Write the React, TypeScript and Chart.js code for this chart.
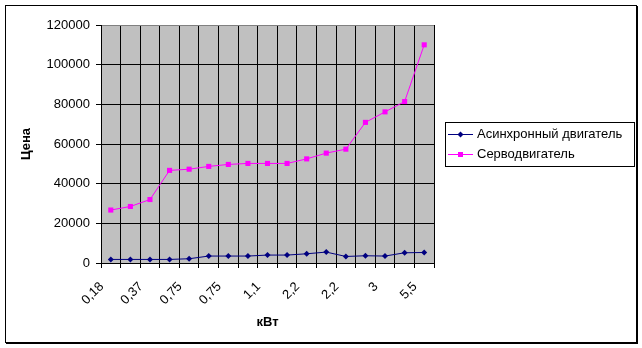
import React, { useEffect, useRef } from 'react';
import { Chart, registerables } from 'chart.js';

Chart.register(...registerables);

const categories = ['0,18', '0,25', '0,37', '0,55', '0,75', '0,75', '0,75', '1,1', '1,1', '1,5', '2,2', '2,2', '2,2', '3', '3', '4', '5,5'];
const asyncPrices = [1800, 1800, 1800, 1800, 2150, 3500, 3500, 3500, 4000, 4000, 4650, 5500, 3300, 3650, 3500, 5150, 5300];
const servoPrices = [26700, 28500, 32000, 46700, 47300, 48700, 49700, 50200, 50200, 50200, 52500, 55400, 57400, 70900, 76200, 81400, 110000];
const seriesNames = ['Асинхронный двигатель', 'Серводвигатель'];
const seriesColors = ['#000080', '#FF00FF'];
const yMin = 0;
const yMax = 120000;
const yStep = 20000;
const xTitle = 'кВт';
const yTitle = 'Цена';

const FONT = '"Liberation Sans", Arial, sans-serif';

const frame = {
  id: 'frame',
  beforeDraw(chart: any) {
    const { ctx, chartArea, width, height } = chart;
    ctx.save();
    ctx.fillStyle = '#ffffff';
    ctx.fillRect(0, 0, width, height);
    ctx.fillStyle = '#C0C0C0';
    ctx.fillRect(chartArea.left, chartArea.top, chartArea.right - chartArea.left, chartArea.bottom - chartArea.top);
    ctx.strokeStyle = '#000';
    ctx.lineWidth = 1;
    ctx.strokeRect(5.5, 5.5, 631, 337);
    ctx.beginPath();
    ctx.moveTo(637.5, 6);
    ctx.lineTo(637.5, 344);
    ctx.moveTo(6, 343.5);
    ctx.lineTo(638, 343.5);
    ctx.stroke();
    ctx.restore();
  },
  afterDraw(chart: any) {
    const { ctx } = chart;
    ctx.save();
    ctx.fillStyle = '#fff';
    ctx.fillRect(445.5, 122.5, 189, 44);
    ctx.strokeStyle = '#000';
    ctx.lineWidth = 1;
    ctx.strokeRect(445.5, 122.5, 189, 44);
    chart.data.datasets.forEach((ds: any, i: number) => {
      const y = 134.5 + i * 20;
      ctx.strokeStyle = ds.borderColor;
      ctx.lineWidth = 1;
      ctx.beginPath();
      ctx.moveTo(448, y);
      ctx.lineTo(473, y);
      ctx.stroke();
      ctx.fillStyle = ds.backgroundColor;
      const cx = 460.5;
      if (ds.pointStyle === 'rectRot') {
        ctx.beginPath();
        ctx.moveTo(cx - 3, y);
        ctx.lineTo(cx, y - 3);
        ctx.lineTo(cx + 3, y);
        ctx.lineTo(cx, y + 3);
        ctx.closePath();
        ctx.fill();
      } else {
        ctx.fillRect(cx - 2.5, y - 2.5, 5, 5);
      }
      ctx.fillStyle = '#000';
      ctx.font = `13px ${FONT}`;
      ctx.textAlign = 'left';
      ctx.textBaseline = 'middle';
      ctx.fillText(ds.label, 477, y);
    });
    ctx.restore();
  },
};

export default function App() {
  const ref = useRef<HTMLCanvasElement | null>(null);
  useEffect(() => {
    if (!ref.current) return;
    const chart = new Chart(ref.current, {
      type: 'line',
      data: {
        labels: categories,
        datasets: [
          {
            label: seriesNames[0],
            data: asyncPrices,
            borderColor: seriesColors[0],
            backgroundColor: seriesColors[0],
            borderWidth: 1,
            pointStyle: 'rectRot',
            pointRadius: 3,
            pointBorderWidth: 0,
            tension: 0,
          },
          {
            label: seriesNames[1],
            data: servoPrices,
            borderColor: seriesColors[1],
            backgroundColor: seriesColors[1],
            borderWidth: 1,
            pointStyle: 'rect',
            pointRadius: 3.6,
            pointBorderWidth: 0,
            tension: 0,
          },
        ],
      },
      options: {
        responsive: false,
        animation: false,
        devicePixelRatio: 1,
        layout: { padding: { left: 5, top: 25, right: 208, bottom: 5 } },
        plugins: { legend: { display: false }, tooltip: { enabled: false } },
        scales: {
          x: {
            type: 'category',
            offset: true,
            grid: {
              offset: true,
              color: (c: any) => (c.index === categories.length ? '#808080' : '#000'),
              tickColor: '#000',
              tickLength: 5,
              lineWidth: 1,
            },
            border: { color: '#000', width: 1 },
            ticks: {
              autoSkip: false,
              maxRotation: 45,
              minRotation: 45,
              padding: 11,
              labelOffset: -9,
              color: '#000',
              font: { family: FONT, size: 13 },
              callback: (_v: any, i: number) => (i % 2 === 0 ? categories[i] : ''),
            },
            title: {
              display: true,
              text: xTitle,
              color: '#000',
              font: { family: FONT, size: 13, weight: 'bold' },
              padding: { top: 0, bottom: 13 },
            },
            afterFit: (s: any) => {
              s.height = 80;
            },
          },
          y: {
            min: yMin,
            max: yMax,
            grid: {
              color: (c: any) => (c.tick && c.tick.value === yMax ? '#808080' : '#000'),
              tickColor: '#000',
              tickLength: 5,
              lineWidth: 1,
            },
            border: { color: '#000', width: 1 },
            ticks: {
              stepSize: yStep,
              padding: 6,
              color: '#000',
              font: { family: FONT, size: 13 },
              callback: (v: any) => String(v),
            },
            title: {
              display: true,
              text: yTitle,
              color: '#000',
              font: { family: FONT, size: 13, weight: 'bold' },
              padding: { top: 14, bottom: 0 },
            },
            afterFit: (s: any) => {
              s.width = 96;
            },
          },
        },
      },
      plugins: [frame],
    } as any);
    return () => chart.destroy();
  }, []);
  return (
    <div style={{ position: 'fixed', left: 0, top: 0, width: 642, height: 348 }}>
      <canvas ref={ref} width={642} height={348} style={{ display: 'block' }} />
    </div>
  );
}
